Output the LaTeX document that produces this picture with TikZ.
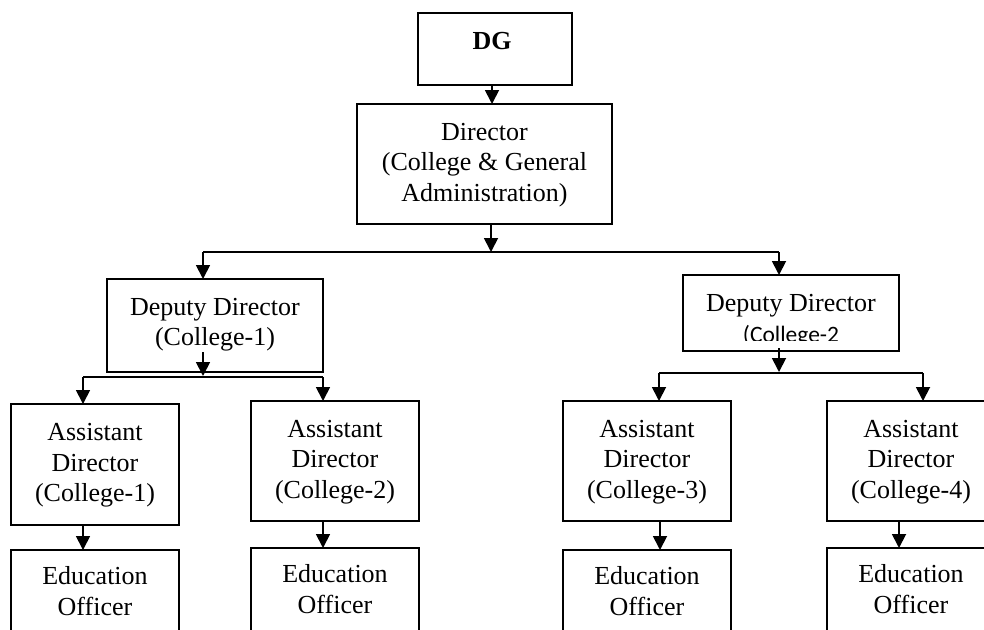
\documentclass[tikz,border=0pt]{standalone}
\usepackage{fontspec}
\setmainfont{Liberation Serif}
\newfontfamily\calib{Carlito}
\usetikzlibrary{arrows.meta}
\begin{document}
\begin{tikzpicture}[x=1pt,y=-1pt,
  box/.style={draw, line width=1.8pt, inner sep=0pt, outer sep=0pt},
  txt/.style={inner sep=0pt, align=center, anchor=base,
    font=\fontsize{26}{30.5}\selectfont},
  conn/.style={line width=1.8pt},
  arr/.style={line width=1.8pt, -{Triangle[length=14pt,width=14pt]}}]
\useasboundingbox (0,0) rectangle (984,629);
\clip (0,0) rectangle (984,629);

% boxes
\node[box, minimum width=154pt, minimum height=72pt]  (dg)  at (495,49) {};
\node[box, minimum width=255pt, minimum height=120pt] (dir) at (484.5,164) {};
\node[box, minimum width=216pt, minimum height=93pt]  (dd1) at (215,325.5) {};
\node[box, minimum width=216pt, minimum height=76pt]  (dd2) at (791,313) {};
\node[box, minimum width=168pt, minimum height=121pt] (ad1) at (95,464.5) {};
\node[box, minimum width=168pt, minimum height=120pt] (ad2) at (335,461) {};
\node[box, minimum width=168pt, minimum height=120pt] (ad3) at (647,461) {};
\node[box, minimum width=168pt, minimum height=120pt] (ad4) at (911,461) {};
\node[box, minimum width=168pt, minimum height=100pt] (eo1) at (95,600) {};
\node[box, minimum width=168pt, minimum height=100pt] (eo2) at (335,598) {};
\node[box, minimum width=168pt, minimum height=100pt] (eo3) at (647,600) {};
\node[box, minimum width=168pt, minimum height=100pt] (eo4) at (911,598) {};

% labels (placed by the baseline of their last line)
\node[txt] (dgT)  at (492,49) {\bfseries DG};
\node[txt] (dirT) at (484.5,201) {Director\\(College \& General\\Administration)};
\node[txt] (dd1T) at (215,345.5) {Deputy Director\\(College-1)};
\node[txt] (dd2T) at (791,311) {Deputy Director};
\begin{scope}
  \clip (684,290) rectangle (898,340);
  \node[txt, font=\calib\fontsize{23.5}{28}\selectfont] (dd2S) at (791,342) {(College-2};
\end{scope}
\node[txt] (ad1T) at (95,501.7) {Assistant\\Director\\(College-1)};
\node[txt] (ad2T) at (335,498)  {Assistant\\Director\\(College-2)};
\node[txt] (ad3T) at (647,498)  {Assistant\\Director\\(College-3)};
\node[txt] (ad4T) at (911,498)  {Assistant\\Director\\(College-4)};
\node[txt] (eo1T) at (95,615)    {Education\\Officer};
\node[txt] (eo2T) at (335,613.3) {Education\\Officer};
\node[txt] (eo3T) at (647,615)   {Education\\Officer};
\node[txt] (eo4T) at (911,613.3) {Education\\Officer};

% DG to Director
\draw[arr] ([xshift=-3pt]dg.south) -- ([xshift=7.5pt]dir.north);

% Director to the two deputy directors
\coordinate (busAL) at (203,252);
\coordinate (busAM) at (491,252);
\coordinate (busAR) at (779,252);
\draw[conn] (busAL) -- (busAR);
\draw[arr] (dir.south -| busAM) -- (busAM);
\draw[arr] (busAL) -- (busAL |- dd1.north);
\draw[arr] (busAR) -- (busAR |- dd2.north);

% Deputy Director (College-1) branch
\coordinate (dd1out) at (203,352);
\coordinate (busBM) at (203,376);
\coordinate (busBL) at (83,377);
\coordinate (busBR) at (323,377);
\draw[conn] (busBL) -- (busBR);
\draw[arr] (dd1out) -- (busBM);
\draw[arr] (busBL) -- (busBL |- ad1.north);
\draw[arr] (busBR) -- (busBR |- ad2.north);

% Deputy Director (College-2) branch
\coordinate (dd2out) at (779,348);
\coordinate (busCM) at (779,372);
\coordinate (busCL) at (659,373);
\coordinate (busCR) at (923,373);
\draw[conn] (busCL) -- (busCR);
\draw[arr] (dd2out) -- (busCM);
\draw[arr] (busCL) -- (busCL |- ad3.north);
\draw[arr] (busCR) -- (busCR |- ad4.north);

% Assistant directors to education officers
\draw[arr] ([xshift=-12pt]ad1.south) -- ([xshift=-12pt]eo1.north);
\draw[arr] ([xshift=-12pt]ad2.south) -- ([xshift=-12pt]eo2.north);
\draw[arr] ([xshift=13pt]ad3.south)  -- ([xshift=13pt]eo3.north);
\draw[arr] ([xshift=-12pt]ad4.south) -- ([xshift=-12pt]eo4.north);
\end{tikzpicture}
\end{document}
